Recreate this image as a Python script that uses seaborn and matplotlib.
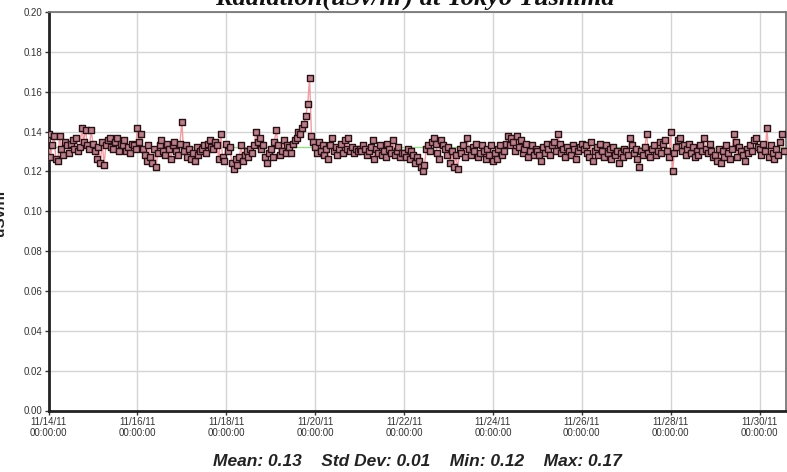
import matplotlib
matplotlib.use("Agg")
import matplotlib.pyplot as plt
import matplotlib.dates as mdates
import numpy as np
import pandas as pd
import seaborn as sns

# Hourly readings (uSv/hr), one list per day
day_1114 = [0.139, 0.127, 0.133, 0.138, 0.126, 0.125, 0.138, 0.131, 0.128, 0.135, 0.133, 0.129,
            0.134, 0.136, 0.131, 0.137, 0.130, 0.132, 0.142, 0.135, 0.141, 0.133, 0.131, 0.141]
day_1115 = [0.134, 0.130, 0.126, 0.132, 0.124, 0.135, 0.123, 0.133, 0.136, 0.137, 0.132, 0.131,
            0.135, 0.137, 0.130, 0.134, 0.133, 0.136, 0.130, 0.132, 0.129, 0.134, 0.133, 0.131]
day_1116 = [0.142, 0.135, 0.139, 0.131, 0.128, 0.125, 0.133, 0.127, 0.124, 0.131, 0.122, 0.129,
            0.133, 0.136, 0.130, 0.128, 0.134, 0.131, 0.126, 0.133, 0.135, 0.130, 0.128, 0.134]
day_1117 = [0.145, 0.130, 0.133, 0.127, 0.131, 0.126, 0.129, 0.125, 0.132, 0.128, 0.130, 0.131,
            0.133, 0.129, 0.134, 0.136, 0.132, 0.131, 0.135, 0.133, 0.126, 0.139, 0.127, 0.125]
day_1118 = [0.134, 0.130, 0.132, 0.124, 0.121, 0.126, 0.123, 0.127, 0.133, 0.125, 0.128, 0.130,
            0.127, 0.131, 0.129, 0.133, 0.140, 0.135, 0.137, 0.131, 0.133, 0.127, 0.124, 0.129]
day_1119 = [0.131, 0.127, 0.135, 0.141, 0.133, 0.128, 0.130, 0.136, 0.129, 0.133, 0.132, 0.129,
            0.134, 0.136, 0.137, 0.140, 0.139, 0.142, 0.144, 0.148, 0.154, 0.167, 0.138, 0.135]
day_1120 = [0.132, 0.129, 0.135, 0.130, 0.133, 0.128, 0.131, 0.126, 0.133, 0.137, 0.130, 0.132,
            0.128, 0.131, 0.134, 0.129, 0.136, 0.131, 0.137, 0.130, 0.132, 0.129, 0.131, 0.130]
day_1121 = [0.131, 0.130, 0.133, 0.131, 0.128, 0.130, 0.132, 0.136, 0.126, 0.131, 0.129, 0.133,
            0.128, 0.130, 0.127, 0.134, 0.131, 0.129, 0.136, 0.128, 0.130, 0.132, 0.127, 0.129]
day_1122 = [0.129, 0.127, 0.131, 0.126, 0.130, 0.128, 0.124, 0.127, 0.125, 0.122, 0.120, 0.123,
            0.131, 0.133, 0.130, 0.135, 0.137, 0.134, 0.129, 0.126, 0.136, 0.133, 0.131, 0.128]
day_1123 = [0.132, 0.124, 0.130, 0.122, 0.128, 0.121, 0.131, 0.129, 0.133, 0.127, 0.137, 0.131,
            0.128, 0.132, 0.130, 0.134, 0.127, 0.129, 0.133, 0.130, 0.126, 0.131, 0.128, 0.133]
day_1124 = [0.125, 0.129, 0.126, 0.131, 0.133, 0.128, 0.130, 0.134, 0.138, 0.133, 0.137, 0.135,
            0.130, 0.138, 0.132, 0.136, 0.129, 0.131, 0.134, 0.127, 0.130, 0.133, 0.128, 0.131]
day_1125 = [0.130, 0.128, 0.125, 0.132, 0.129, 0.134, 0.131, 0.128, 0.133, 0.135, 0.130, 0.139,
            0.134, 0.129, 0.131, 0.127, 0.132, 0.130, 0.128, 0.133, 0.131, 0.126, 0.130, 0.132]
day_1126 = [0.134, 0.131, 0.133, 0.129, 0.127, 0.135, 0.125, 0.130, 0.132, 0.128, 0.134, 0.130,
            0.127, 0.133, 0.129, 0.131, 0.126, 0.132, 0.128, 0.130, 0.124, 0.129, 0.127, 0.131]
day_1127 = [0.130, 0.128, 0.137, 0.133, 0.129, 0.131, 0.126, 0.122, 0.130, 0.128, 0.132, 0.139,
            0.129, 0.127, 0.131, 0.133, 0.128, 0.130, 0.135, 0.129, 0.134, 0.136, 0.130, 0.127]
day_1128 = [0.140, 0.120, 0.129, 0.132, 0.136, 0.137, 0.130, 0.133, 0.128, 0.131, 0.134, 0.129,
            0.132, 0.127, 0.130, 0.128, 0.133, 0.130, 0.137, 0.131, 0.129, 0.134, 0.130, 0.127]
day_1129 = [0.128, 0.125, 0.131, 0.124, 0.130, 0.127, 0.133, 0.129, 0.126, 0.131, 0.139, 0.135,
            0.127, 0.132, 0.130, 0.128, 0.125, 0.131, 0.129, 0.133, 0.130, 0.136, 0.137, 0.132]
day_1130 = [0.131, 0.128, 0.134, 0.130, 0.142, 0.127, 0.133, 0.129, 0.126, 0.131, 0.128, 0.135,
            0.139, 0.130]

mean_level = 0.132
start_time = "2011-11-14 00:00"
end_time = "2011-11-30 14:00"

y_ticks = [0.00, 0.02, 0.04, 0.06, 0.08, 0.10, 0.12, 0.14, 0.16, 0.18, 0.20]
y_tick_labels = ["0.00", "0.02", "0.04", "0.06", "0.08", "0.10", "0.12", "0.14", "0.16", "0.18", "0.20"]
x_tick_dates = ["2011-11-14", "2011-11-16", "2011-11-18", "2011-11-20", "2011-11-22",
                "2011-11-24", "2011-11-26", "2011-11-28", "2011-11-30"]
x_tick_labels = ["11/14/11\n00:00:00", "11/16/11\n00:00:00", "11/18/11\n00:00:00",
                 "11/20/11\n00:00:00", "11/22/11\n00:00:00", "11/24/11\n00:00:00",
                 "11/26/11\n00:00:00", "11/28/11\n00:00:00", "11/30/11\n00:00:00"]

title_text = "Radiation(uSv/hr) at Tokyo Tushima"
stats_text = "Mean: 0.13    Std Dev: 0.01    Min: 0.12    Max: 0.17"
y_label = "uSv/hr"

values = (day_1114 + day_1115 + day_1116 + day_1117 + day_1118 + day_1119 + day_1120 +
          day_1121 + day_1122 + day_1123 + day_1124 + day_1125 + day_1126 + day_1127 +
          day_1128 + day_1129 + day_1130)
times = pd.date_range(start_time, periods=len(values), freq="h")
df = pd.DataFrame({"time": times, "value": values})

sns.set_theme(style="white")
plt.rcParams["font.family"] = ["Liberation Sans", "DejaVu Sans"]

fig = plt.figure(figsize=(7.87, 4.72), dpi=100)
ax = fig.add_axes([48.5 / 787, 1 - 410.5 / 472, (785.5 - 48.5) / 787, (410.5 - 12) / 472])

ax.grid(True, color="#d4d4d4", linewidth=1.0, zorder=0)
ax.set_axisbelow(True)

ax.axhline(mean_level, color="#9ad88a", linewidth=1.0, zorder=2)
sns.lineplot(data=df, x="time", y="value", ax=ax, color="#f09ca2", linewidth=1.0,
             zorder=3, legend=False)
sns.scatterplot(data=df, x="time", y="value", ax=ax, marker="s", s=17,
                color="#b8808a", edgecolor="#2a1014", linewidth=1.0, zorder=4, legend=False)

ax.set_ylim(0, 0.20)
ax.set_xlim(pd.Timestamp(start_time), pd.Timestamp(end_time))
ax.set_yticks(y_ticks)
ax.set_yticklabels(y_tick_labels)
ax.set_xticks([mdates.date2num(pd.Timestamp(d)) for d in x_tick_dates])
ax.set_xticklabels(x_tick_labels)
ax.set_xlabel("")
ax.set_ylabel("")

ax.tick_params(axis="both", which="both", labelsize=7, colors="#333333", length=3,
               width=1, pad=1.5, direction="out", left=True, bottom=True)
for lbl in ax.get_xticklabels():
    lbl.set_linespacing(1.15)

for side in ["left", "bottom"]:
    ax.spines[side].set_color("#222222")
    ax.spines[side].set_linewidth(2.0)
for side in ["top", "right"]:
    ax.spines[side].set_color("#777777")
    ax.spines[side].set_linewidth(1.3)

fig.text(415 / 787, 1 - 5 / 472, title_text, ha="center", va="baseline",
         fontsize=19, fontweight="bold", fontstyle="italic",
         family=["Liberation Serif", "DejaVu Serif"], color="#111111")
fig.text(417 / 787, 1 - 462 / 472, stats_text, ha="center", va="center",
         fontsize=12.5, fontweight="bold", fontstyle="italic", color="#222222")
fig.text(0.0, 1 - 212 / 472, y_label, ha="center", va="center", rotation=90,
         fontsize=11, fontweight="bold", color="#222222")

fig.savefig("out.png", dpi=100)
